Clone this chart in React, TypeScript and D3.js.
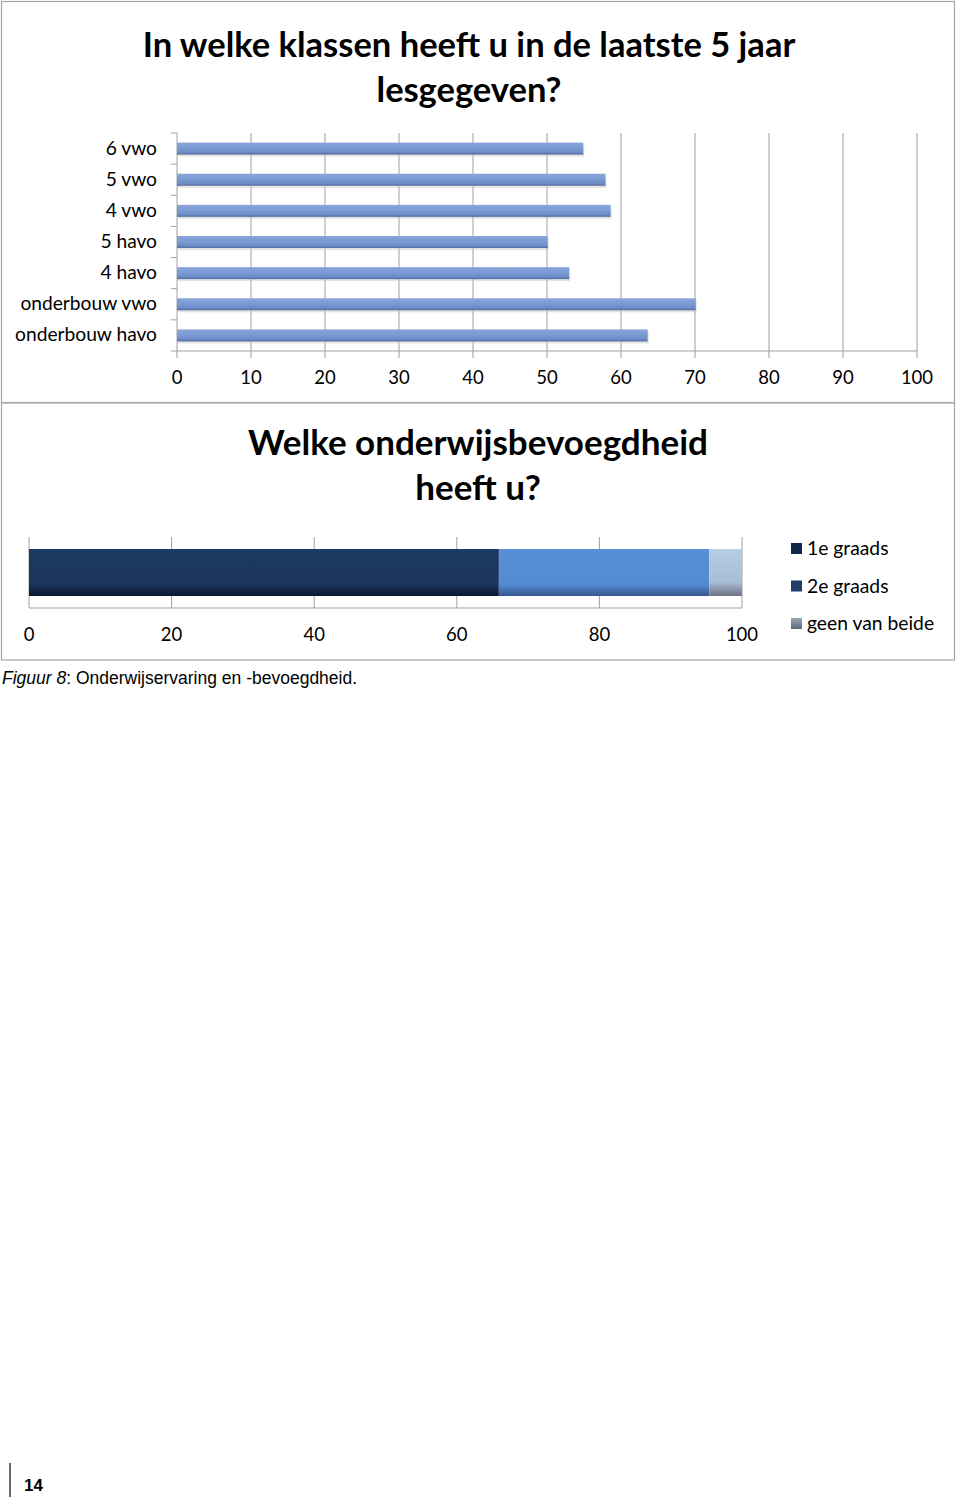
import React, { useRef, useEffect } from "react";
import * as d3 from "d3";

// chart 1: klassen
const klassen = ["6 vwo", "5 vwo", "4 vwo", "5 havo", "4 havo", "onderbouw vwo", "onderbouw havo"];
const klassenWaarden = [54.9, 57.9, 58.6, 50.1, 53.0, 70.1, 63.6];
const ticks1 = [0, 10, 20, 30, 40, 50, 60, 70, 80, 90, 100];

// chart 2: bevoegdheid (stacked)
const bevoegdheid = ["1e graads", "2e graads", "geen van beide"];
const bevoegdheidWaarden = [65.9, 29.5, 4.6];
const ticks2 = [0, 20, 40, 60, 80, 100];

const FONT = "Lato, 'Open Sans', sans-serif";

const App = () => {
  const ref = useRef<SVGSVGElement | null>(null);

  useEffect(() => {
    const svg = d3.select(ref.current);
    svg.selectAll("*").remove();

    const defs = svg.append("defs");
    const grad = (id: string, stops: [string, string][]) => {
      const g = defs.append("linearGradient").attr("id", id)
        .attr("x1", 0).attr("y1", 0).attr("x2", 0).attr("y2", 1);
      stops.forEach(([o, c]) => g.append("stop").attr("offset", o).attr("stop-color", c));
    };
    grad("barBlue", [["0%", "#8aa5da"], ["45%", "#7a9bd4"], ["80%", "#6d8cc9"], ["100%", "#536c9c"]]);
    grad("seg0", [["0%", "#1d3a62"], ["75%", "#1a355c"], ["100%", "#0b1a30"]]);
    grad("seg1", [["0%", "#5790d7"], ["75%", "#538bd2"], ["100%", "#36588c"]]);
    grad("seg2", [["0%", "#b8cce6"], ["70%", "#aabdd8"], ["100%", "#6c7582"]]);
    grad("leg2", [["0%", "#9aa6b6"], ["100%", "#5d6878"]]);

    // ---------- chart 1 ----------
    svg.append("rect").attr("x", 1.5).attr("y", 1.5).attr("width", 953).attr("height", 401)
      .attr("fill", "white").attr("stroke", "#a6a6a6").attr("stroke-width", 1.2);

    const title1 = svg.append("text").attr("text-anchor", "middle")
      .attr("font-family", FONT).attr("font-weight", "bold").attr("font-size", 34.5).attr("fill", "#000");
    title1.append("tspan").attr("x", 469).attr("y", 57).text("In welke klassen heeft u in de laatste 5 jaar");
    title1.append("tspan").attr("x", 469).attr("y", 102).text("lesgegeven?");

    const x1 = d3.scaleLinear().domain([0, 100]).range([177, 917]);
    const y1 = d3.scaleBand().domain(klassen).range([133, 351]);

    const g1 = svg.append("g");
    g1.selectAll(".grid").data(ticks1).join("line")
      .attr("x1", (d) => x1(d)).attr("x2", (d) => x1(d))
      .attr("y1", 133).attr("y2", 358)
      .attr("stroke", "#a0a0a0").attr("stroke-width", 1);
    g1.append("line").attr("x1", 177).attr("x2", 917).attr("y1", 351).attr("y2", 351)
      .attr("stroke", "#a0a0a0");
    // left axis ticks at band borders
    const borders = klassen.map((k) => y1(k) as number).concat([351]);
    g1.selectAll(".ytick").data(borders).join("line")
      .attr("x1", 171).attr("x2", 177).attr("y1", (d) => d).attr("y2", (d) => d)
      .attr("stroke", "#a0a0a0");

    g1.selectAll(".shadow").data(klassenWaarden).join("rect")
      .attr("x", 178).attr("y", (d, i) => (y1(klassen[i]) as number) + y1.bandwidth() / 2 - 4)
      .attr("width", (d) => x1(d) - 177).attr("height", 12)
      .attr("fill", "#c8c8c8").attr("opacity", 0.5);
    g1.selectAll(".bar").data(klassenWaarden).join("rect")
      .attr("x", 177).attr("y", (d, i) => (y1(klassen[i]) as number) + y1.bandwidth() / 2 - 6)
      .attr("width", (d) => x1(d) - 177).attr("height", 12)
      .attr("fill", "url(#barBlue)");

    g1.selectAll(".ylab").data(klassen).join("text")
      .attr("x", 157).attr("y", (d) => (y1(d) as number) + y1.bandwidth() / 2 + 6)
      .attr("text-anchor", "end").attr("font-family", FONT).attr("font-size", 19.2)
      .attr("fill", "#000").text((d) => d);
    g1.selectAll(".xlab").data(ticks1).join("text")
      .attr("x", (d) => x1(d)).attr("y", 384)
      .attr("text-anchor", "middle").attr("font-family", FONT).attr("font-size", 18.5)
      .attr("fill", "#000").text((d) => d);

    // ---------- chart 2 ----------
    svg.append("rect").attr("x", 1.5).attr("y", 403).attr("width", 953).attr("height", 257)
      .attr("fill", "white").attr("stroke", "#a6a6a6").attr("stroke-width", 1.2);

    const title2 = svg.append("text").attr("text-anchor", "middle")
      .attr("font-family", FONT).attr("font-weight", "bold").attr("font-size", 35).attr("fill", "#000");
    title2.append("tspan").attr("x", 478).attr("y", 455).text("Welke onderwijsbevoegdheid");
    title2.append("tspan").attr("x", 478).attr("y", 500).text("heeft u?");

    const x2 = d3.scaleLinear().domain([0, 100]).range([29, 742]);
    const g2 = svg.append("g");
    g2.selectAll(".grid").data(ticks2).join("line")
      .attr("x1", (d) => x2(d)).attr("x2", (d) => x2(d))
      .attr("y1", 537).attr("y2", 608)
      .attr("stroke", "#a0a0a0");
    g2.append("line").attr("x1", 29).attr("x2", 742).attr("y1", 608).attr("y2", 608)
      .attr("stroke", "#a0a0a0");

    const starts = bevoegdheidWaarden.map((v, i) => d3.sum(bevoegdheidWaarden.slice(0, i)));
    g2.selectAll(".seg").data(bevoegdheidWaarden).join("rect")
      .attr("x", (d, i) => x2(starts[i])).attr("y", 549)
      .attr("width", (d) => x2(d) - x2(0)).attr("height", 47)
      .attr("fill", (d, i) => `url(#seg${i})`);

    g2.selectAll(".xlab").data(ticks2).join("text")
      .attr("x", (d) => x2(d)).attr("y", 641)
      .attr("text-anchor", "middle").attr("font-family", FONT).attr("font-size", 18.5)
      .attr("fill", "#000").text((d) => d);

    const legFill = ["#10264a", "#1f3e6c", "url(#leg2)"];
    const leg = g2.selectAll(".leg").data(bevoegdheid).join("g")
      .attr("transform", (d, i) => `translate(791, ${543 + i * 37.5})`);
    leg.append("rect").attr("width", 11).attr("height", 11).attr("fill", (d, i) => legFill[i]);
    leg.append("text").attr("x", 16).attr("y", 12).attr("font-family", FONT).attr("font-size", 19.3)
      .attr("fill", "#000").text((d) => d);

    // caption
    const cap = svg.append("text").attr("x", 2).attr("y", 684)
      .attr("font-family", "'Liberation Sans', Arial, sans-serif").attr("font-size", 17.5).attr("fill", "#000");
    cap.append("tspan").attr("font-style", "italic").text("Figuur 8");
    cap.append("tspan").text(": Onderwijservaring en -bevoegdheid.");

    // page number
    svg.append("line").attr("x1", 10).attr("x2", 10).attr("y1", 1463).attr("y2", 1497)
      .attr("stroke", "#000").attr("stroke-width", 1.2);
    svg.append("text").attr("x", 24).attr("y", 1491)
      .attr("font-family", "'Liberation Sans', Arial, sans-serif").attr("font-weight", "bold")
      .attr("font-size", 17).attr("fill", "#000").text("14");
  }, []);

  return (
    <svg ref={ref} width={960} height={1500}
      style={{ position: "absolute", left: 0, top: 0, background: "white" }} />
  );
};

export default App;
